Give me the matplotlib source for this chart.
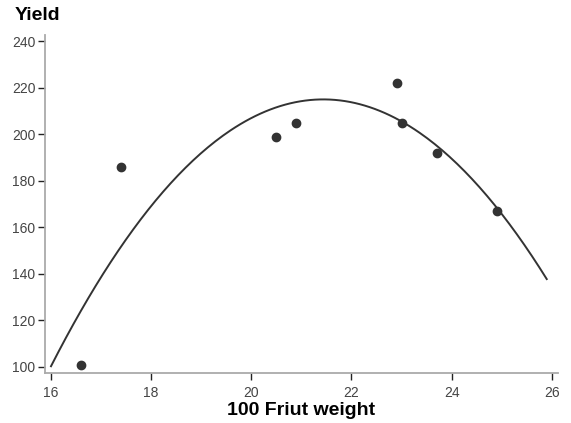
import numpy as np
import matplotlib
matplotlib.use('Agg')
import matplotlib.pyplot as plt

# fruit weight vs yield
fruit_weight = [16.6, 17.4, 20.5, 20.9, 22.9, 23.0, 23.7, 24.9]
yield_vals = [101, 186, 199, 205, 222, 205, 192, 167]

x_ticks = [16, 18, 20, 22, 24, 26]
y_ticks = [100, 120, 140, 160, 180, 200, 220, 240]

# quadratic fit drawn from 16 to 25.9
coef = np.polyfit(fruit_weight, yield_vals, 2)
xs = np.linspace(16, 25.9, 200)
ys = np.polyval(coef, xs)

tick_font = ['Liberation Sans', 'DejaVu Sans']
bold_font = ['Liberation Sans', 'DejaVu Sans']

fig = plt.figure(figsize=(5.71, 4.23), dpi=100)
ax = fig.add_axes([0.0788, 0.1182, 0.898, 0.799])

ax.plot(xs, ys, color='#333333', lw=1.4)
ax.plot(fruit_weight, yield_vals, 'o', color='#333333', ms=6)

ax.set_xlim(15.88, 26.12)
ax.set_ylim(97.4, 242.6)
ax.set_xticks(x_ticks)
ax.set_yticks(y_ticks)

for s in ['top', 'right']:
    ax.spines[s].set_visible(False)
for s in ['left', 'bottom']:
    ax.spines[s].set_color('#aaaaaa')
    ax.spines[s].set_linewidth(1.3)

ax.tick_params(length=5, width=1, color='#222222', labelcolor='#444444', labelsize=10)
ax.tick_params(axis='y', pad=2)
ax.tick_params(axis='x', pad=4)
for lab in ax.get_xticklabels() + ax.get_yticklabels():
    lab.set_family(tick_font)

fig.text(15 / 571, 1 - 15 / 423, 'Yield', fontsize=14, fontweight='bold',
         family=bold_font, ha='left', va='center')
fig.text(301 / 571, 1 - 410 / 423, '100 Friut weight', fontsize=14, fontweight='bold',
         family=bold_font, ha='center', va='center')

fig.savefig('out.png', dpi=100)
